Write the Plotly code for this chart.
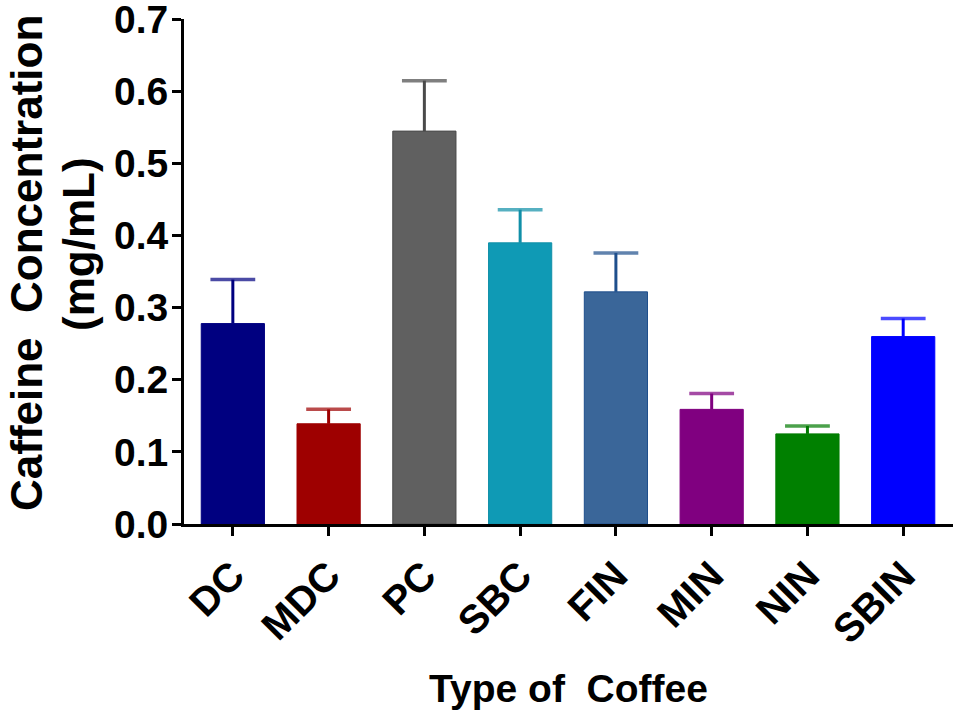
import plotly.graph_objects as go

# Values
coffee_types = ["DC", "MDC", "PC", "SBC", "FIN", "MIN", "NIN", "SBIN"]
caffeine_mean = [0.278, 0.139, 0.545, 0.390, 0.322, 0.159, 0.125, 0.260]
caffeine_err = [0.061, 0.020, 0.070, 0.046, 0.054, 0.022, 0.011, 0.025]
bar_colors = ["#000080", "#9e0000", "#606060", "#0f9ab5",
              "#3a6699", "#800080", "#008000", "#0000ff"]
err_colors = ["#000080", "#9e0000", "#4a4a4a", "#108fa8",
              "#1f4f8c", "#800080", "#007a00", "#0000ff"]
y_ticks = [0.0, 0.1, 0.2, 0.3, 0.4, 0.5, 0.6, 0.7]
y_title_lines = ["Caffeine  Concentration", "(mg/mL)"]

FONT = "Liberation Sans, Arial, sans-serif"
L, T, B = 184, 19, 189  # plot margins in px

fig = go.Figure()

fig.add_trace(go.Bar(
    x=coffee_types,
    y=caffeine_mean,
    width=0.66,
    marker=dict(color=bar_colors, line=dict(color=err_colors, width=1)),
    showlegend=False,
))

# upper-only error bars: stem from bar top, cap at mean + err
for name, m, e, ec in zip(coffee_types, caffeine_mean, caffeine_err, err_colors):
    fig.add_trace(go.Scatter(
        x=[name, name],
        y=[m, m + e],
        mode='lines+markers',
        line=dict(color=ec, width=3),
        marker=dict(symbol='line-ew', size=[0, 32], color=ec,
                    line=dict(color=ec, width=3.5)),
        showlegend=False,
        hoverinfo='skip',
    ))

# y title as two rotated lines (tighter line spacing than plotly's own title)
fig.add_annotation(text=y_title_lines[0], textangle=-90,
                   xref='paper', yref='paper', x=0, y=0,
                   xanchor='center', yanchor='middle',
                   xshift=26 - L, yshift=524 - 263, showarrow=False,
                   font=dict(family=FONT, size=44, weight='bold', color='black'))
fig.add_annotation(text=y_title_lines[1], textangle=-90,
                   xref='paper', yref='paper', x=0, y=0,
                   xanchor='center', yanchor='middle',
                   xshift=78 - L, yshift=524 - 244, showarrow=False,
                   font=dict(family=FONT, size=44, weight='bold', color='black'))

fig.update_layout(
    width=957,
    height=713,
    margin=dict(l=L, r=4, t=T, b=B),
    plot_bgcolor='white',
    paper_bgcolor='white',
    font=dict(family=FONT, color='black'),
)

fig.update_xaxes(
    range=[-0.51, 7.52],
    automargin=False,
    showline=True, linecolor='black', linewidth=3,
    ticks='outside', ticklen=9, tickwidth=3, tickcolor='black',
    tickangle=-45,
    tickfont=dict(family=FONT, size=40, weight='bold'),
    ticklabelstandoff=0,
    title=dict(text="Type of  Coffee", standoff=25,
               font=dict(family=FONT, size=39, weight='bold')),
    showgrid=False, zeroline=False,
)

fig.update_yaxes(
    range=[0, 0.7005],
    automargin=False,
    tickvals=y_ticks, ticktext=[f"{v:.1f}" for v in y_ticks],
    ticklabeloverflow='allow',
    showline=True, linecolor='black', linewidth=3,
    ticks='outside', ticklen=9, tickwidth=3, tickcolor='black',
    tickfont=dict(family=FONT, size=39, weight='bold'),
    ticklabelstandoff=-4,
    showgrid=False, zeroline=False,
)

# drop the default 8px page margin so the figure sits at the window's corner
fig.write_html("out.html", config={'displayModeBar': False},
               post_script="document.body.style.margin='0';")
